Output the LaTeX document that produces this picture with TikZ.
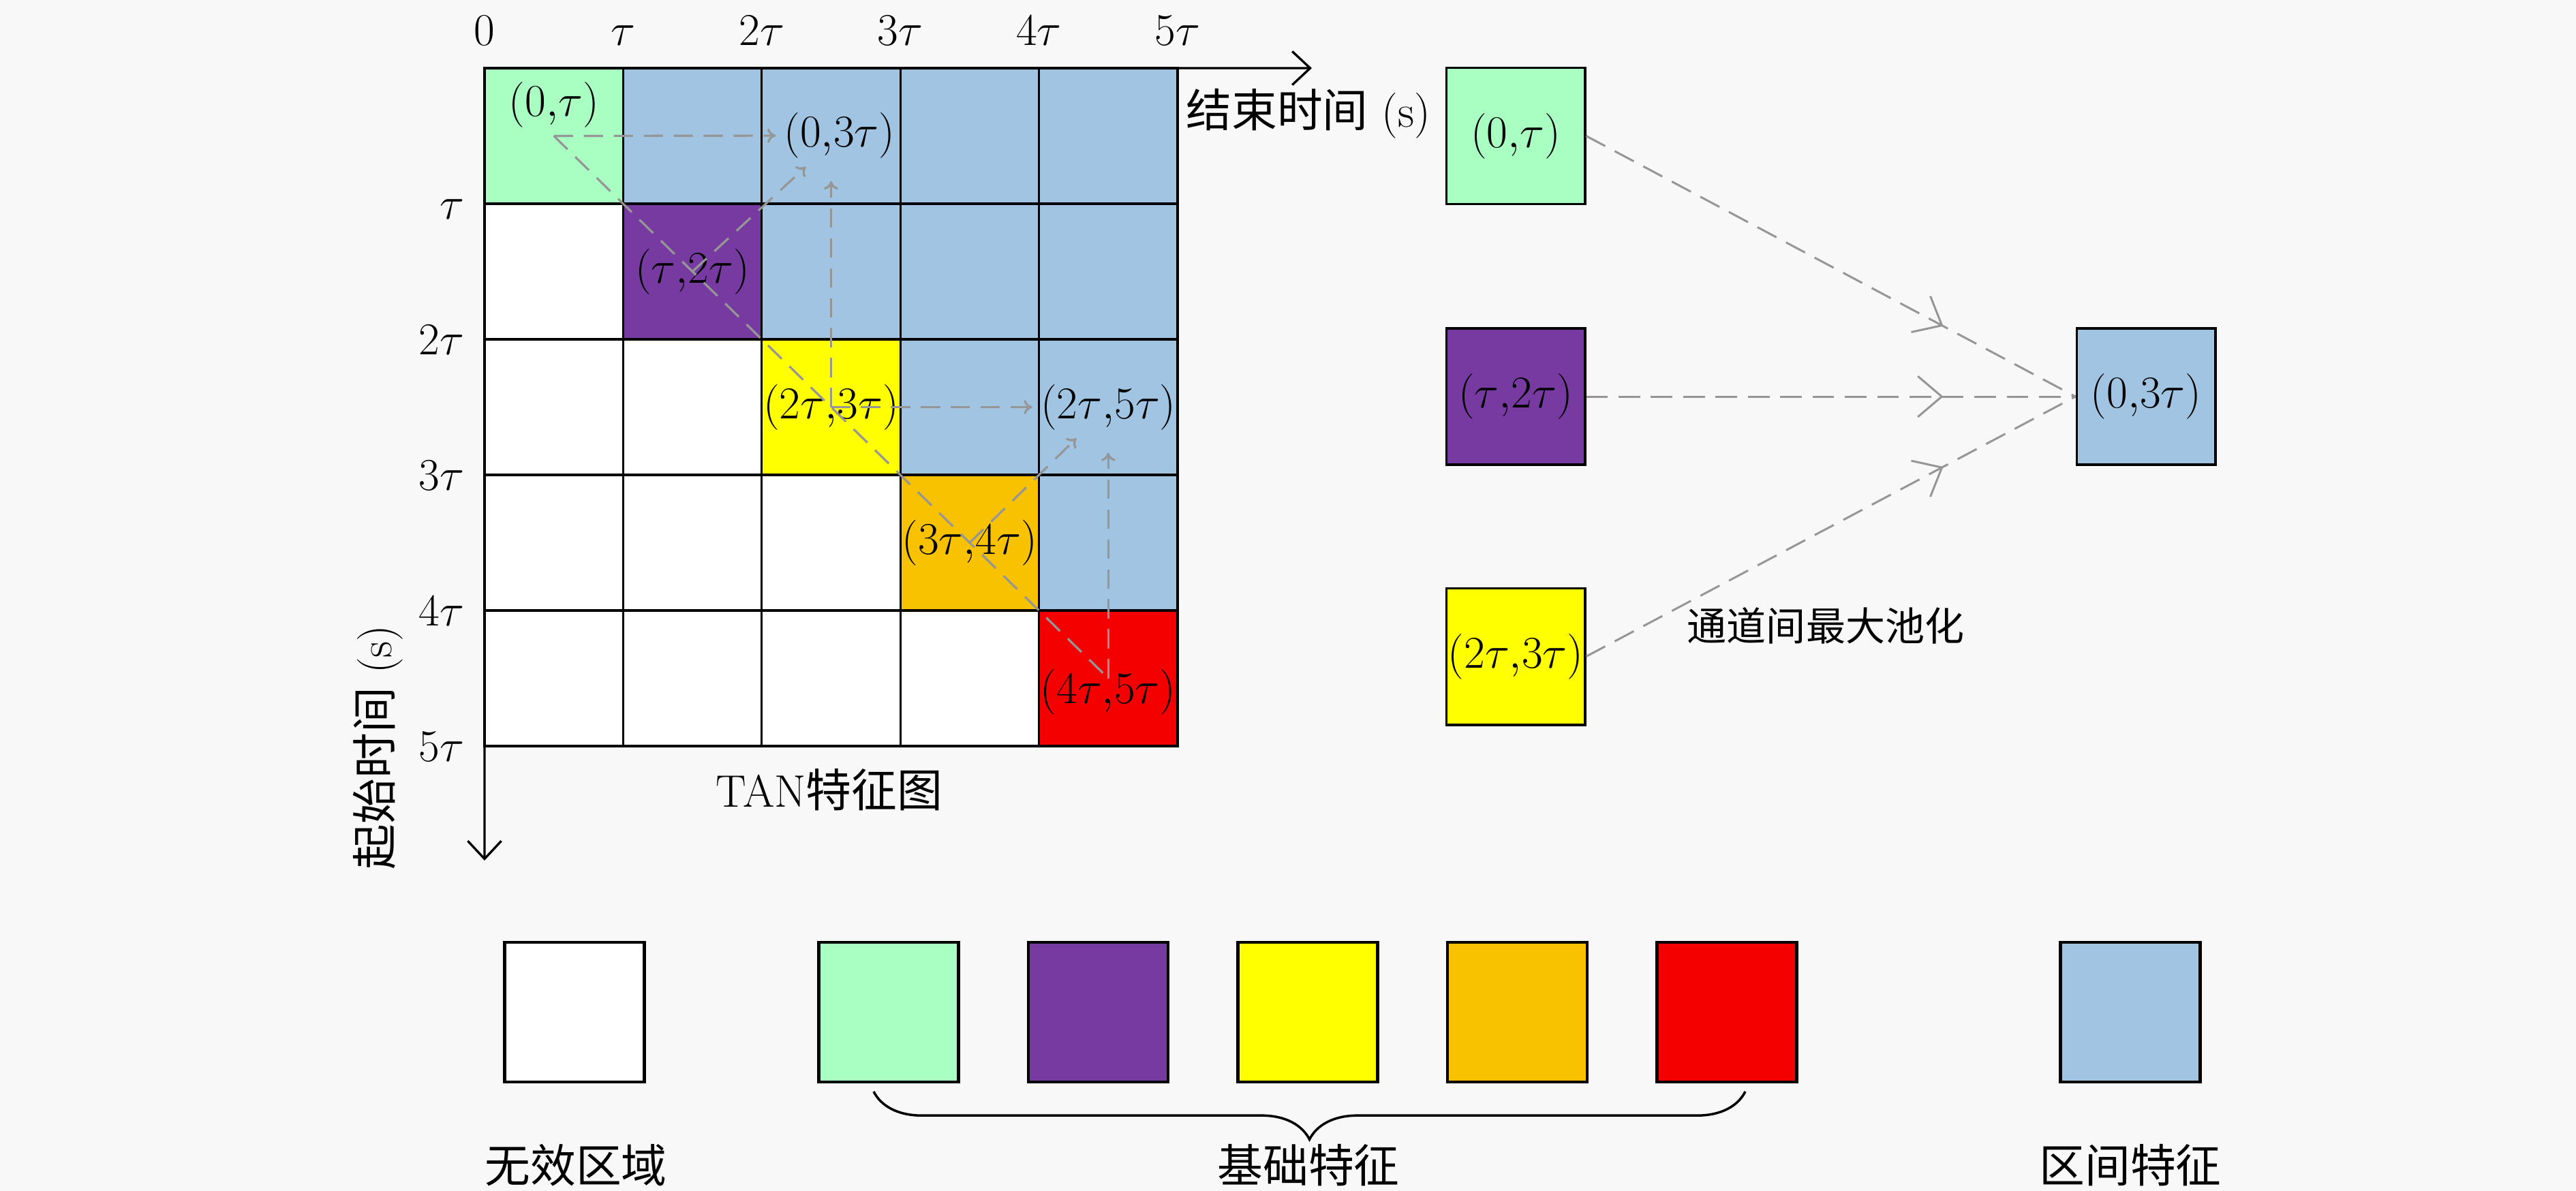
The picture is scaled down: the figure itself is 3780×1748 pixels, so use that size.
\RequirePackage{fix-cm}
\documentclass[tikz,border=0pt]{standalone}
\usepackage{fontspec}
\newfontfamily\cjk{Noto Sans CJK SC}
\usetikzlibrary{arrows.meta,decorations.pathreplacing,decorations.markings}
\definecolor{bgc}{HTML}{F8F8F8}
\definecolor{cgreen}{HTML}{A9FFC2}
\definecolor{cblue}{HTML}{A0C4E2}
\definecolor{cpurple}{HTML}{763AA0}
\definecolor{cyellow}{HTML}{FFFF00}
\definecolor{corange}{HTML}{F8C200}
\definecolor{cred}{HTML}{F40000}
\definecolor{lgray}{RGB}{150,150,150}
\colorlet{d0}{cgreen}
\colorlet{d1}{cpurple}
\colorlet{d2}{cyellow}
\colorlet{d3}{corange}
\colorlet{d4}{cred}
\tikzset{
  cellfill/.style={rectangle, inner sep=0pt, outer sep=0pt, minimum width=2.034cm, minimum height=1.99cm},
  gridline/.style={draw=black, line width=0.9pt},
  axis/.style={draw=black, line width=0.95pt, -{Straight Barb[length=7.5pt,width=14pt]}},
  tick/.style={inner sep=0pt},
  gline/.style={draw=lgray, line width=0.9pt, dash pattern=on 8pt off 4.5pt},
  garrow/.style={gline, -{To[length=3.5pt,width=6pt]}},
  rline/.style={draw=lgray, line width=0.85pt, dash pattern=on 9pt off 4.5pt,
    postaction={decorate},
    decoration={markings, mark=at position 0.73 with {\arrow{Straight Barb[length=10pt,width=17pt,line width=0.85pt]}}}},
  rbox/.style={rectangle, draw=black, line width=1.1pt, minimum width=2.03cm, minimum height=2cm, inner sep=0pt},
  lbox/.style={rectangle, draw=black, line width=1.2pt, minimum width=2.05cm, minimum height=2.05cm, inner sep=0pt},
  brace/.style={draw=black, line width=1pt, decorate, decoration={brace, mirror, amplitude=20pt}}
}
\begin{document}
\begin{tikzpicture}[x=0.01cm, y=-0.01cm, font=\fontsize{19}{23}\selectfont]
\useasboundingbox (0,0) rectangle (3780,1748);
\fill[bgc] (0,0) rectangle (3780,1748);

% grid cells
\foreach \r in {0,...,4}{
  \foreach \c in {0,...,4}{
    \ifnum\c>\r \def\cc{cblue}\else\ifnum\c<\r \def\cc{white}\else\def\cc{d\r}\fi\fi
    \node[cellfill, fill=\cc] (c\r\c) at ({711+203.4*(\c+0.5)},{100+199*(\r+0.5)}) {};
  }
}
\foreach \r in {0,...,4}{
  \foreach \c in {0,...,4}{
    \draw[gridline] (c\r\c.north west) rectangle (c\r\c.south east);
  }
}

% axes
\coordinate (xend) at (1925,100);
\coordinate (yend) at (711,1263);
\draw[axis] (c00.north west) -- (xend);
\draw[axis] (c00.north west) -- (yend);

% tick labels
\node[tick, anchor=base] (t0) at (711,66) {$0$};
\node[tick, anchor=base] (t1) at (914.4,66) {$\tau$};
\node[tick, anchor=base] (t2) at (1117.8,66) {$2\tau$};
\node[tick, anchor=base] (t3) at (1321.2,66) {$3\tau$};
\node[tick, anchor=base] (t4) at (1524.6,66) {$4\tau$};
\node[tick, anchor=base] (t5) at (1728,66) {$5\tau$};
\node[tick, anchor=base east] (s1) at (682,321) {$\tau$};
\node[tick, anchor=base east] (s2) at (682,520) {$2\tau$};
\node[tick, anchor=base east] (s3) at (682,719) {$3\tau$};
\node[tick, anchor=base east] (s4) at (682,918) {$4\tau$};
\node[tick, anchor=base east] (s5) at (682,1117) {$5\tau$};

% axis labels
\node[anchor=west] (xlab) at (1728,167) {{\cjk 结束时间} (s)};
\node[rotate=90] (ylab) at (555,1097) {{\cjk 起始时间} (s)};
\node (tan) at (1217,1159) {TAN{\cjk 特征图}};

% labels in grid
\node[above] (l00) at (c00.center) {$(0{,}\tau)$};
\node (l02) at (1232,199) {$(0{,}3\tau)$};
\node (l11) at (c11.center) {$(\tau{,}2\tau)$};
\node (l22) at (c22.center) {$(2\tau{,}3\tau)$};
\node (l24) at (c24.center) {$(2\tau{,}5\tau)$};
\node (l33) at (c33.center) {$(3\tau{,}4\tau)$};
\node (l44) at (1626,1016) {$(4\tau{,}5\tau)$};

% dashed connectors in grid
\draw[gline] (c00.center) -- (c44.center);
\draw[garrow] (c00.center) -- (l02);
\draw[garrow] (c11.center) -- (l02);
\draw[garrow, shorten >=6pt] (c22.center) -- (c22.center |- l02.south);
\draw[garrow] (c22.center) -- (l24);
\draw[garrow] (c33.center) -- (l24);
\draw[garrow, shorten >=6pt] (c44.center) -- (c44.center |- l24.south);

% right side: inter-channel max pooling
\node[rbox, fill=cgreen] (r1) at (2224,199.5) {$(0{,}\tau)$};
\node[rbox, fill=cpurple] (r2) at (2224,582) {$(\tau{,}2\tau)$};
\node[rbox, fill=cyellow] (r3) at (2224,963.5) {$(2\tau{,}3\tau)$};
\node[rbox, fill=cblue] (r0) at (3149,582) {$(0{,}3\tau)$};
\draw[rline] (r1.east) -- (r0.west);
\draw[rline] (r2.east) -- (r0.west);
\draw[rline] (r3.east) -- (r0.west);
\node[font=\fontsize{16.5}{20}\selectfont\cjk] (pool) at (2679,918) {通道间最大池化};

% legend
\node[lbox, fill=white] (g0) at (843,1485.5) {};
\node[lbox, fill=cgreen] (g1) at (1304,1485.5) {};
\node[lbox, fill=cpurple] (g2) at (1611.5,1485.5) {};
\node[lbox, fill=cyellow] (g3) at (1919,1485.5) {};
\node[lbox, fill=corange] (g4) at (2226.5,1485.5) {};
\node[lbox, fill=cred] (g5) at (2534,1485.5) {};
\node[lbox, fill=cblue] (g6) at (3126,1485.5) {};
\coordinate (bl) at (1282,1602);
\coordinate (br) at (2561,1602);
\draw[brace] (bl) -- (br);
\node[font=\fontsize{19}{23}\selectfont\cjk] (w0) at (845,1710) {无效区域};
\node[font=\fontsize{19}{23}\selectfont\cjk] (w1) at (1920,1710) {基础特征};
\node[font=\fontsize{19}{23}\selectfont\cjk] (w2) at (3126,1710) {区间特征};
\end{tikzpicture}
\end{document}
